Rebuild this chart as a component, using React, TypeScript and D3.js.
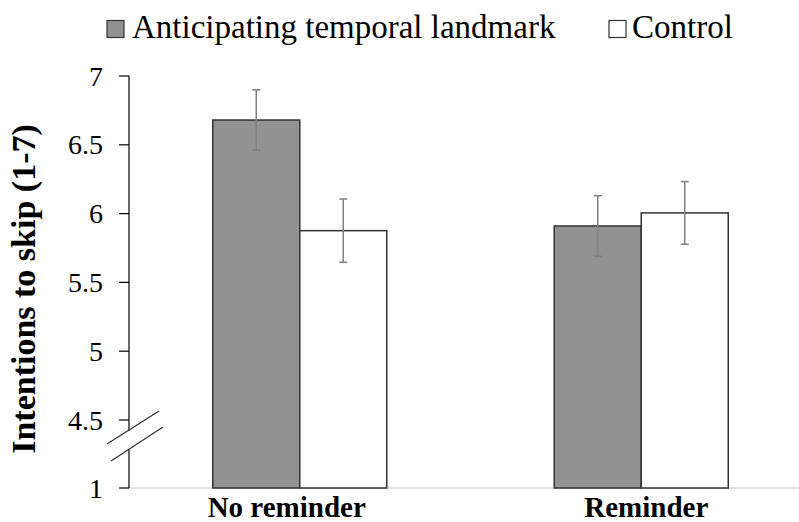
import React from "react";
import * as d3 from "d3";

const categories = ["No reminder", "Reminder"];
const seriesNames = ["Anticipating temporal landmark", "Control"];
const anticipating = [6.68, 5.91];
const anticipatingErr = [0.22, 0.22];
const control = [5.876, 6.005];
const controlErr = [0.23, 0.228];
const tickValues = [1, 4.5, 5, 5.5, 6, 6.5, 7];
const tickLabels = ["1", "4.5", "5", "5.5", "6", "6.5", "7"];

const W = 799;
const H = 522;
const FONT = "Liberation Serif";

export default function App() {
  const left = 129;
  const right = 812;
  const x0 = d3.scaleBand<string>().domain(categories).range([left, right]).paddingInner(0).paddingOuter(0);
  const barW = 87;
  // broken axis: 1 sits one step below 4.5
  const y = d3.scaleLinear().domain([1, 4.5, 7]).range([488, 420, 76]);
  const series = [
    { name: seriesNames[0], vals: anticipating, errs: anticipatingErr, fill: "#929292" },
    { name: seriesNames[1], vals: control, errs: controlErr, fill: "#ffffff" },
  ];
  const y45 = y(4.5);
  const labelDx = [-13, 5];
  return (
    <svg width={W} height={H} style={{ display: "block", position: "absolute", left: 0, top: 0, background: "#fff" }}>
      {/* x axis line */}
      <line x1={left} x2={W} y1={y(1)} y2={y(1)} stroke="#d9d9d9" strokeWidth={1.5} />
      {/* bars */}
      {categories.map((c, ci) => {
        const cx = (x0(c) as number) + x0.bandwidth() / 2;
        return series.map((s, si) => {
          const bx = cx - barW + si * barW;
          const v = s.vals[ci];
          const e = s.errs[ci];
          const ex = bx + barW / 2;
          return (
            <g key={c + si}>
              <rect x={bx} y={y(v)} width={barW} height={y(1) - y(v)} fill={s.fill} stroke="#333" strokeWidth={1.5} />
              <line x1={ex} x2={ex} y1={y(v + e)} y2={y(v - e)} stroke="#808080" strokeWidth={1.5} />
              <line x1={ex - 4} x2={ex + 4} y1={y(v + e)} y2={y(v + e)} stroke="#808080" strokeWidth={1.5} />
              <line x1={ex - 4} x2={ex + 4} y1={y(v - e)} y2={y(v - e)} stroke="#808080" strokeWidth={1.5} />
            </g>
          );
        });
      })}
      {/* y axis (interrupted at the break) */}
      <line x1={left} x2={left} y1={y(7)} y2={y45 + 10.5} stroke="#000" strokeWidth={1.2} />
      <line x1={left} x2={left} y1={y45 + 29} y2={y(1)} stroke="#000" strokeWidth={1.2} />
      {tickValues.map((t, i) => (
        <g key={t}>
          <line x1={left - 10} x2={left} y1={y(t)} y2={y(t)} stroke="#000" strokeWidth={1.2} />
          <text x={103} y={y(t)} dy="0.34em" textAnchor="end" fontFamily={FONT} fontSize={28} fill="#000">
            {tickLabels[i]}
          </text>
        </g>
      ))}
      {/* break marks */}
      <line x1={107} y1={y45 + 24} x2={159} y2={y45 - 9} stroke="#333" strokeWidth={1.3} />
      <line x1={111} y1={y45 + 41} x2={163} y2={y45 + 7} stroke="#333" strokeWidth={1.3} />
      {/* y label */}
      <text
        transform={`translate(35,289) rotate(-90)`}
        textAnchor="middle"
        fontFamily={FONT}
        fontWeight="bold"
        fontSize={34}
        fill="#000"
      >
        Intentions to skip (1-7)
      </text>
      {/* x labels */}
      {categories.map((c, i) => (
        <text
          key={c}
          x={(x0(c) as number) + x0.bandwidth() / 2 + labelDx[i]}
          y={517}
          textAnchor="middle"
          fontFamily={FONT}
          fontWeight="bold"
          fontSize={29}
          fill="#000"
        >
          {c}
        </text>
      ))}
      {/* legend */}
      <rect x={107} y={20.5} width={17} height={17} fill="#929292" stroke="#333" strokeWidth={1.2} />
      <text x={132} y={37.5} fontFamily={FONT} fontSize={33} fill="#000">
        {seriesNames[0]}
      </text>
      <rect x={609} y={20.5} width={17} height={17} fill="#fff" stroke="#333" strokeWidth={1.2} />
      <text x={632} y={37.5} fontFamily={FONT} fontSize={33} fill="#000">
        {seriesNames[1]}
      </text>
    </svg>
  );
}
